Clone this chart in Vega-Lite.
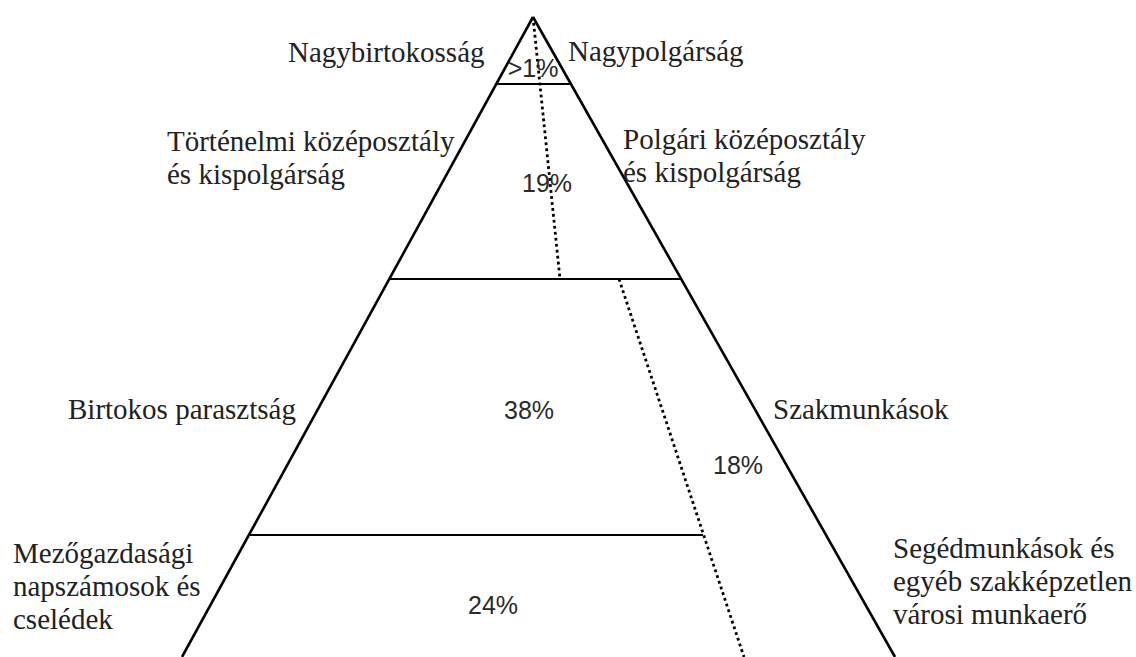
{
  "$schema": "https://vega.github.io/schema/vega-lite/v6.json",
  "width": 1136,
  "height": 657,
  "autosize": {"type": "none"},
  "padding": 0,
  "background": "white",
  "config": {"view": {"stroke": null}},
  "datasets": {
    "segments": [
      {"x1": 533, "y1": 17, "x2": 182, "y2": 657, "kind": "side"},
      {"x1": 533, "y1": 17, "x2": 895, "y2": 657, "kind": "side"},
      {"x1": 496, "y1": 84, "x2": 571, "y2": 84, "kind": "level"},
      {"x1": 389, "y1": 279, "x2": 682, "y2": 279, "kind": "level"},
      {"x1": 249, "y1": 535, "x2": 703, "y2": 535, "kind": "level"},
      {"x1": 533, "y1": 17, "x2": 560, "y2": 279, "kind": "divider"},
      {"x1": 619, "y1": 279, "x2": 744, "y2": 657, "kind": "divider"}
    ],
    "labels": [
      {"x": 288, "y": 62, "label": "Nagybirtokosság"},
      {"x": 568, "y": 61, "label": "Nagypolgárság"},
      {"x": 167, "y": 151, "label": "Történelmi középosztály\nés kispolgárság"},
      {"x": 623, "y": 149, "label": "Polgári középosztály\nés kispolgárság"},
      {"x": 68, "y": 419, "label": "Birtokos parasztság"},
      {"x": 773, "y": 419, "label": "Szakmunkások"},
      {"x": 13, "y": 563, "label": "Mezőgazdasági\nnapszámosok és\ncselédek"},
      {"x": 893, "y": 558, "label": "Segédmunkások és\negyéb szakképzetlen\nvárosi munkaerő"}
    ],
    "shares": [
      {"x": 533, "y": 77, "share": ">1%"},
      {"x": 547, "y": 192, "share": "19%"},
      {"x": 529, "y": 419, "share": "38%"},
      {"x": 738, "y": 474, "share": "18%"},
      {"x": 493, "y": 614, "share": "24%"}
    ]
  },
  "layer": [
    {
      "data": {"name": "segments"},
      "transform": [{"filter": "datum.kind === 'side'"}],
      "mark": {"type": "rule", "color": "#000000", "strokeWidth": 2.6},
      "encoding": {
        "x": {"field": "x1", "type": "quantitative", "scale": {"domain": [0, 1136], "nice": false, "zero": false}, "axis": null},
        "y": {"field": "y1", "type": "quantitative", "scale": {"domain": [0, 657], "reverse": true, "nice": false, "zero": false}, "axis": null},
        "x2": {"field": "x2"},
        "y2": {"field": "y2"}
      }
    },
    {
      "data": {"name": "segments"},
      "transform": [{"filter": "datum.kind === 'level'"}],
      "mark": {"type": "rule", "color": "#000000", "strokeWidth": 2.2},
      "encoding": {
        "x": {"field": "x1", "type": "quantitative", "axis": null},
        "y": {"field": "y1", "type": "quantitative", "axis": null},
        "x2": {"field": "x2"},
        "y2": {"field": "y2"}
      }
    },
    {
      "data": {"name": "segments"},
      "transform": [{"filter": "datum.kind === 'divider'"}],
      "mark": {"type": "rule", "color": "#000000", "strokeWidth": 2.8, "strokeDash": [2.8, 3.2]},
      "encoding": {
        "x": {"field": "x1", "type": "quantitative", "axis": null},
        "y": {"field": "y1", "type": "quantitative", "axis": null},
        "x2": {"field": "x2"},
        "y2": {"field": "y2"}
      }
    },
    {
      "data": {"name": "labels"},
      "mark": {"type": "text", "align": "left", "baseline": "alphabetic", "font": "Liberation Serif", "fontSize": 29, "lineHeight": 33, "lineBreak": "\n", "color": "#222222"},
      "encoding": {
        "x": {"field": "x", "type": "quantitative", "axis": null},
        "y": {"field": "y", "type": "quantitative", "axis": null},
        "text": {"field": "label"}
      }
    },
    {
      "data": {"name": "shares"},
      "mark": {"type": "text", "align": "center", "baseline": "alphabetic", "font": "Liberation Sans", "fontSize": 25, "color": "#2a2a2a"},
      "encoding": {
        "x": {"field": "x", "type": "quantitative", "axis": null},
        "y": {"field": "y", "type": "quantitative", "axis": null},
        "text": {"field": "share"}
      }
    }
  ]
}
